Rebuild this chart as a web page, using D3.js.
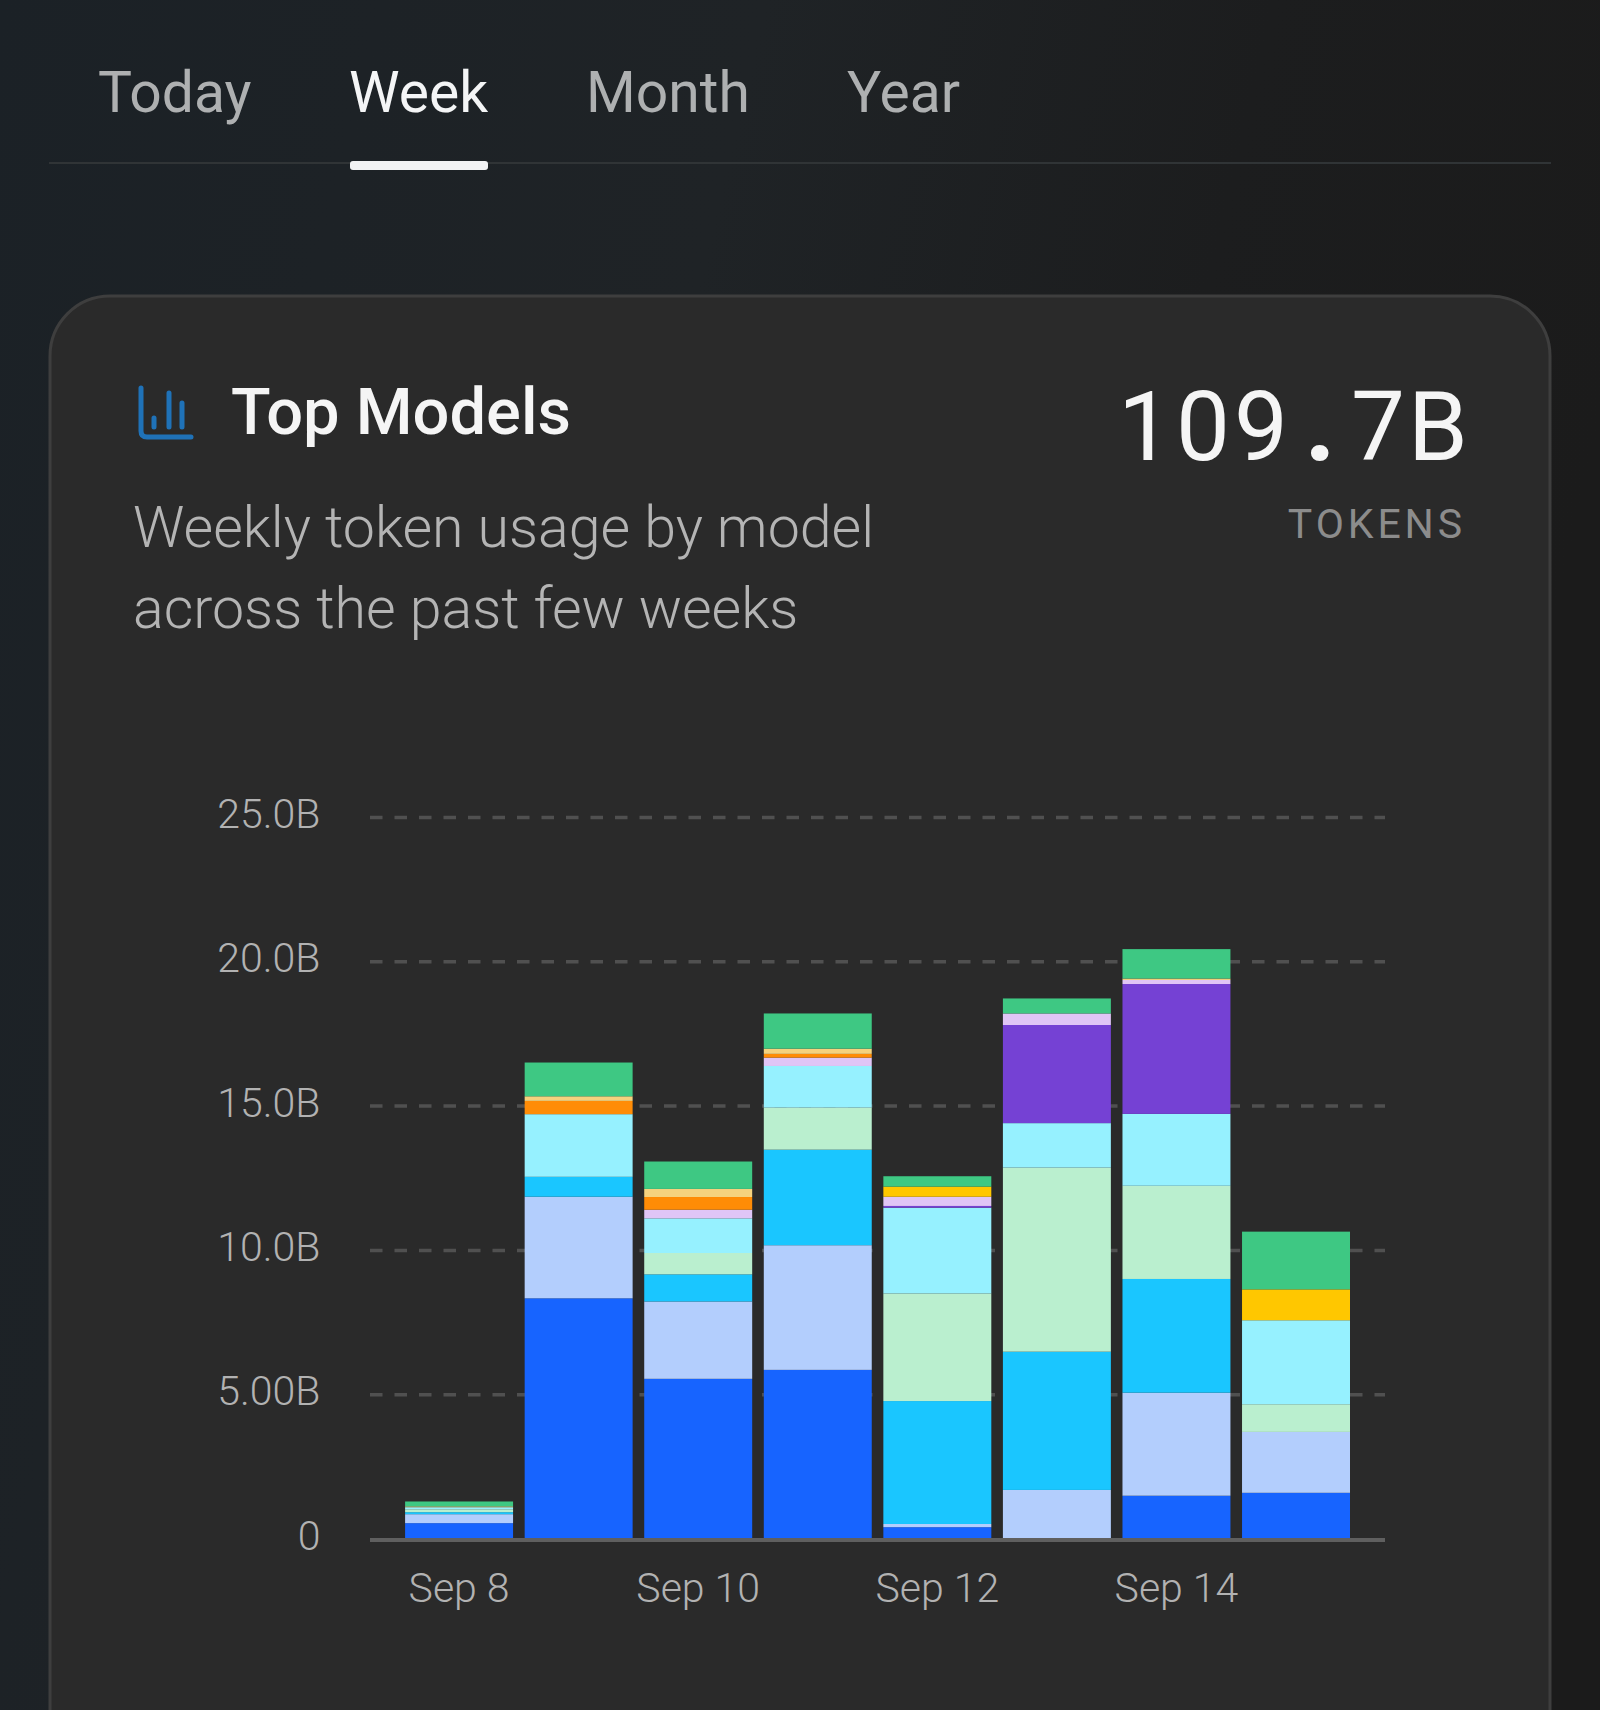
<!DOCTYPE html>
<html>
<head>
<meta charset="utf-8">
<script src="https://cdn.jsdelivr.net/npm/d3@7"></script>
<style>
html,body{margin:0;padding:0;background:#1d2023;}
svg{display:block;font-family:Roboto,sans-serif;}
</style>
</head>
<body>
<svg id="c" width="1600" height="1710"></svg>
<script>
const days = ["Sep 8","Sep 9","Sep 10","Sep 11","Sep 12","Sep 13","Sep 14","Sep 15"];
const tabs = ["Today","Week","Month","Year"];
const shownDays = ["Sep 8","Sep 10","Sep 12","Sep 14"];
const yTicks = [0,5,10,15,20,25];
const yTickLabels = ["0","5.00B","10.0B","15.0B","20.0B","25.0B"];
const seriesKeys = ["blue","skyPale","cyan","mint","aqua","purple","lavender","orange","peach","gold","green"];
const seriesColors = ["#1764ff","#b3cefd","#1ac6ff","#baefcf","#96f1ff","#7541d4","#e0c5f6","#ff8c06","#f5d27e","#ffc700","#3ec883"];
const blue     = [0.55,8.34,5.55,5.86,0.41,0,1.50,1.60];
const skyPale  = [0.31,3.52,2.68,4.32,0.11,1.70,3.57,2.11];
const cyan     = [0.07,0.69,0.94,3.31,4.26,4.79,3.94,0];
const mint     = [0.10,0,0.74,1.46,3.73,6.38,3.23,0.96];
const aqua     = [0.07,2.17,1.20,1.44,2.97,1.54,2.49,2.91];
const purple   = [0,0,0,0,0.06,3.40,4.50,0];
const lavender = [0,0,0.30,0.29,0.32,0.40,0.14,0];
const orange   = [0,0.46,0.44,0.13,0,0,0,0];
const peach    = [0.03,0.16,0.28,0.18,0,0,0.05,0];
const gold     = [0,0,0,0,0.35,0,0,1.07];
const green    = [0.17,1.17,0.95,1.22,0.36,0.52,1.02,2.00];
const seriesValues = [blue,skyPale,cyan,mint,aqua,purple,lavender,orange,peach,gold,green];

const table = days.map((d,i)=>{
  const row={day:d};
  seriesKeys.forEach((k,j)=>row[k]=seriesValues[j][i]);
  return row;
});

const svg=d3.select("#c");
const defs=svg.append("defs");
const bg=defs.append("linearGradient").attr("id","bg").attr("x1","0").attr("y1","0").attr("x2","1").attr("y2","0.25");
bg.append("stop").attr("offset","0").attr("stop-color","#1b2126");
bg.append("stop").attr("offset","0.45").attr("stop-color","#1f2326");
bg.append("stop").attr("offset","0.75").attr("stop-color","#1c1d1e");
bg.append("stop").attr("offset","1").attr("stop-color","#1b1b1b");
svg.append("rect").attr("width",1600).attr("height",1710).attr("fill","url(#bg)");

/* tabs */
const tabX=[98,349,586,847];
svg.selectAll("text.tab").data(tabs).join("text").attr("class","tab")
  .attr("x",(d,i)=>tabX[i]).attr("y",111.5)
  .attr("font-size",57).attr("font-weight",400)
  .attr("fill",d=>d==="Week"?"#f4f5f6":"#aeb0b1").text(d=>d);
svg.append("rect").attr("x",49).attr("y",162).attr("width",1502).attr("height",2).attr("fill","#303436");
svg.append("rect").attr("x",350).attr("y",161).attr("width",138).attr("height",9).attr("rx",3).attr("fill","#f2f3f4");

/* card */
svg.append("rect").attr("x",50).attr("y",296).attr("width",1500).attr("height",1500).attr("rx",60)
  .attr("fill","#2a2a2a").attr("stroke","#3e3e3e").attr("stroke-width",3);

/* icon */
const icon=svg.append("g").attr("fill","none").attr("stroke","#1f72b8").attr("stroke-linecap","round").attr("stroke-linejoin","round");
icon.append("path").attr("d","M141 388V431Q141 437 147 437H191").attr("stroke-width",5);
icon.append("path").attr("d","M154 418V427M169 393V427M182 403V427").attr("stroke-width",5);

/* headings */
svg.append("text").attr("x",231).attr("y",434).attr("font-size",65).attr("font-weight",500).attr("fill","#f5f5f5").text("Top Models");
svg.append("text").attr("x",133).attr("y",546.5).attr("font-size",57.3).attr("font-weight",300).attr("fill","#b4b4b4").text("Weekly token usage by model");
svg.append("text").attr("x",133).attr("y",628).attr("font-size",57.3).attr("font-weight",300).attr("fill","#b4b4b4").text("across the past few weeks");
const totalChars=["1","0","9",".","7","B"];
const totalCharX=[1145,1203,1261,1320,1378,1438];
svg.selectAll("text.total").data(totalChars).join("text").attr("class","total")
  .attr("x",(d,i)=>totalCharX[i]).attr("y",460).attr("text-anchor","middle")
  .attr("font-size",96).attr("font-weight",d=>d==="."?900:400).attr("fill","#f5f5f5").text(d=>d);
svg.append("text").attr("x",1466).attr("y",538).attr("text-anchor","end").attr("font-size",41).attr("letter-spacing",3.9)
  .attr("font-weight",400).attr("fill","#8c8c8c").text("TOKENS");

/* scales */
const y=d3.scaleLinear().domain([0,25]).range([1539,817.5]);
const x=d3.scaleBand().domain(days).range([399.3,1355.8]).paddingInner(0.097).paddingOuter(0.0485);
const axisL=370, axisR=1385;

/* grid */
svg.append("g").selectAll("line").data(yTicks.filter(t=>t>0)).join("line")
  .attr("x1",axisL).attr("x2",axisR).attr("y1",d=>y(d)).attr("y2",d=>y(d))
  .attr("stroke","#505050").attr("stroke-width",3.5).attr("stroke-dasharray","12.5 12");

/* stacked bars */
const stacked=d3.stack().keys(seriesKeys)(table);
svg.append("g").selectAll("g").data(stacked).join("g")
  .attr("fill",(d,i)=>seriesColors[i])
  .selectAll("rect").data(d=>d.filter(s=>s[1]-s[0]>0)).join("rect")
  .attr("x",d=>x(d.data.day)).attr("width",x.bandwidth())
  .attr("y",d=>y(d[1])).attr("height",d=>y(d[0])-y(d[1]));

/* axes */
const gy=svg.append("g").attr("transform","translate(320.5,-3)")
  .call(d3.axisLeft(y).tickValues(yTicks).tickSize(0).tickPadding(0).tickFormat((d,i)=>yTickLabels[i]));
gy.select(".domain").remove();
gy.selectAll("text").attr("font-family","Roboto").attr("font-size",41).attr("font-weight",350).attr("fill","#b2b2b2");

svg.append("line").attr("x1",axisL).attr("x2",axisR).attr("y1",1540).attr("y2",1540).attr("stroke","#5f5f5f").attr("stroke-width",4);

const gx=svg.append("g").attr("transform","translate(0,1539)")
  .call(d3.axisBottom(x).tickValues(shownDays).tickSize(0).tickPadding(34));
gx.select(".domain").remove();
gx.selectAll("text").attr("font-family","Roboto").attr("font-size",41).attr("font-weight",350).attr("fill","#b2b2b2");
</script>
</body>
</html>
